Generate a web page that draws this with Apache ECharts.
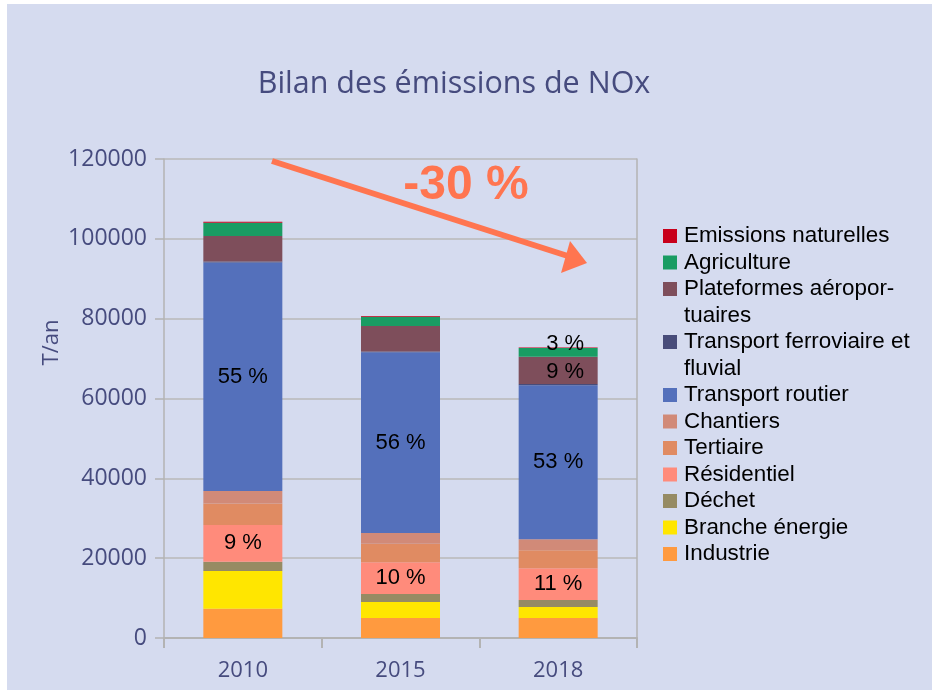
<!DOCTYPE html>
<html>
<head>
<meta charset="utf-8">
<title>Bilan des émissions de NOx</title>
<script src="https://cdn.jsdelivr.net/npm/echarts@6/dist/echarts.min.js"></script>
<style>
  html, body { margin: 0; padding: 0; background: #fff; }
  #main { width: 932px; height: 690px; }
</style>
</head>
<body>
<div id="main"></div>
<script>
// années
var years = ['2010', '2015', '2018'];

// émissions en T/an, du bas de la pile vers le haut
var industrie      = [7300, 5000, 5000];
var brancheEnergie = [9500, 4000, 2750];
var dechet         = [2300, 2000, 1750];
var residentiel    = [9200, 8000, 8000];
var tertiaire      = [5400, 4600, 4500];
var chantiers      = [3100, 2700, 2750];
var routier        = [57300, 45300, 38600];
var ferroviaire    = [200, 150, 300];
var plateformes    = [6400, 6400, 6800];
var agriculture    = [3300, 2300, 2200];
var naturelles     = [250, 200, 150];

var yTicks = [0, 20000, 40000, 60000, 80000, 100000, 120000];

// parts affichées sur les barres : [série, année]
var shownShares = [
    ['Transport routier', '2010'], ['Résidentiel', '2010'],
    ['Transport routier', '2015'], ['Résidentiel', '2015'],
    ['Transport routier', '2018'], ['Résidentiel', '2018'],
    ['Plateformes aéroportuaires', '2018'], ['Agriculture', '2018']
];

var stack = [
    {name: 'Industrie', data: industrie, color: '#ff9a3f'},
    {name: 'Branche énergie', data: brancheEnergie, color: '#ffe600'},
    {name: 'Déchet', data: dechet, color: '#968b63'},
    {name: 'Résidentiel', data: residentiel, color: '#ff8b7b'},
    {name: 'Tertiaire', data: tertiaire, color: '#e08b62'},
    {name: 'Chantiers', data: chantiers, color: '#d18a78'},
    {name: 'Transport routier', data: routier, color: '#5470bb'},
    {name: 'Transport ferroviaire et fluvial', data: ferroviaire, color: '#484c7a'},
    {name: 'Plateformes aéroportuaires', data: plateformes, color: '#7e4e5b'},
    {name: 'Agriculture', data: agriculture, color: '#199c63'},
    {name: 'Emissions naturelles', data: naturelles, color: '#c8001b'}
];

var totals = years.map(function (y, i) {
    var s = 0;
    stack.forEach(function (it) { s += it.data[i]; });
    return s;
});

function isShown(name, i) {
    for (var k = 0; k < shownShares.length; k++) {
        if (shownShares[k][0] === name && shownShares[k][1] === years[i]) return true;
    }
    return false;
}

var axisColor = '#464b7e';
var legendFont = {fontFamily: 'Liberation Sans', fontSize: 22.4, color: '#000', lineHeight: 26.5, padding: [0, 0, 0, 2]};

var series = stack.map(function (it) {
    return {
        name: it.name,
        type: 'bar',
        stack: 'nox',
        barWidth: 79,
        itemStyle: {color: it.color},
        data: it.data.map(function (v, i) {
            var d = {value: v};
            if (isShown(it.name, i)) {
                var off = [0, 0];
                if (years[i] === '2018' && it.name !== 'Transport routier' && it.name !== 'Résidentiel') {
                    off = it.name === 'Agriculture' ? [7, -8] : [7, 2];
                }
                d.label = {
                    show: true,
                    position: 'inside',
                    offset: off,
                    formatter: Math.round(v / totals[i] * 100) + ' %',
                    fontFamily: 'Liberation Sans',
                    fontSize: 22,
                    color: '#000'
                };
            }
            return d;
        }),
        emphasis: {disabled: true}
    };
});

function legendBlock(top, names, fmt) {
    var l = {
        orient: 'vertical', left: 663, top: top, padding: 0, itemGap: 0,
        itemWidth: 14, itemHeight: 14, icon: 'rect',
        data: names,
        textStyle: legendFont
    };
    if (fmt) l.formatter = fmt;
    return l;
}

var chart = echarts.init(document.getElementById('main'));
var option = {
    backgroundColor: '#ffffff',
    animation: false,
    title: {
        text: 'Bilan des émissions de NOx',
        left: 449,
        textAlign: 'center',
        top: 64,
        textStyle: {fontFamily: 'Open Sans', fontSize: 30.5, fontWeight: 'normal', color: axisColor}
    },
    legend: [
        legendBlock(222.75, ['Emissions naturelles', 'Agriculture']),
        // ligne vide en tête pour aligner le carré sur la première ligne
        legendBlock(249.25, ['Plateformes aéroportuaires'], function () {
            return ' \nPlateformes aéropor-\ntuaires';
        }),
        legendBlock(302.25, ['Transport ferroviaire et fluvial'], function () {
            return ' \nTransport ferroviaire et\nfluvial';
        }),
        legendBlock(381.75, ['Transport routier', 'Chantiers', 'Tertiaire', 'Résidentiel',
                             'Déchet', 'Branche énergie', 'Industrie'])
    ],
    grid: {left: 164, right: 295, top: 159, bottom: 52, containLabel: false},
    xAxis: {
        type: 'category',
        data: years,
        axisLine: {show: true, lineStyle: {color: '#b3b3b3', width: 2}},
        axisTick: {show: true, length: 10, lineStyle: {color: '#b3b3b3', width: 2}},
        axisLabel: {margin: 22, fontFamily: 'Open Sans', fontSize: 22, color: axisColor},
        splitLine: {show: false}
    },
    yAxis: [
        {
            type: 'value',
            min: 0, max: 120000, interval: 20000,
            name: 'T/an',
            nameLocation: 'middle',
            nameGap: 101,
            nameMoveOverlap: false,
            nameTextStyle: {fontFamily: 'Open Sans', fontSize: 22, color: axisColor, padding: [0, 0, 0, 112]},
            axisLine: {show: true, lineStyle: {color: '#b3b3b3', width: 1.5}},
            axisTick: {show: true, length: 9, lineStyle: {color: '#b3b3b3', width: 1.5}},
            axisLabel: {
                margin: 17, fontFamily: 'Open Sans', fontSize: 23, color: axisColor,
                formatter: function (v) { return yTicks.indexOf(v) >= 0 ? String(v) : ''; }
            },
            splitLine: {show: true, lineStyle: {color: '#b8b8b8', width: 1.5}}
        },
        {
            type: 'value',
            min: 0, max: 120000, interval: 20000,
            position: 'right',
            axisLine: {show: true, lineStyle: {color: '#b3b3b3', width: 1.5}},
            axisTick: {show: false},
            axisLabel: {show: false},
            splitLine: {show: false}
        }
    ],
    graphic: [
        {
            type: 'rect', z: -10, silent: true,
            shape: {x: 7, y: 4, width: 925, height: 686},
            style: {fill: '#d5dbef'}
        },
        {
            type: 'line', z: 10, silent: true,
            shape: {x1: 272, y1: 161, x2: 574, y2: 258},
            style: {stroke: '#ff7550', lineWidth: 6}
        },
        {
            type: 'polygon', z: 10, silent: true,
            shape: {points: [[587, 263], [570, 241], [561, 273]]},
            style: {fill: '#ff7550'}
        },
        {
            type: 'text', z: 10, silent: true,
            x: 466, y: 186,
            style: {
                text: '-30 %', fill: '#ff7550', align: 'center', verticalAlign: 'middle',
                font: 'bold 48px "Liberation Sans"'
            }
        }
    ],
    series: series
};
option && chart.setOption(option);
</script>
</body>
</html>
